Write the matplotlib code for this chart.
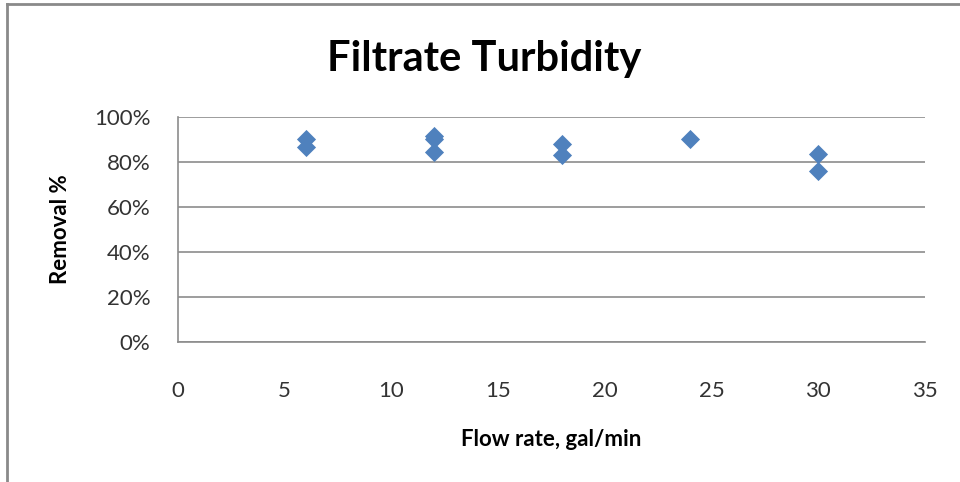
import matplotlib
matplotlib.use("Agg")
import matplotlib.pyplot as plt
from matplotlib.lines import Line2D
from matplotlib.ticker import PercentFormatter

# flow rate (gal/min) vs turbidity removal (%)
flow_rate = [6, 6, 12, 12, 12, 18, 18, 24, 30, 30]
removal = [90.3, 86.8, 91.6, 90.1, 84.4, 88.2, 82.9, 90.1, 83.4, 76.1]

x_ticks = [0, 5, 10, 15, 20, 25, 30, 35]
y_ticks = [0, 20, 40, 60, 80, 100]

plt.rcParams["font.family"] = ["Lato", "DejaVu Sans"]

fig = plt.figure(figsize=(9.6, 4.82), dpi=100)
ax = fig.add_axes([0.1854, 0.2905, 0.7781, 0.4668])

ax.scatter(flow_rate, removal, marker="D", s=95, color="#4F81BD", zorder=3,
           linewidths=0)

ax.set_xlim(0, 35)
ax.set_ylim(0, 100)
ax.set_xticks(x_ticks)
ax.set_yticks(y_ticks)
ax.yaxis.set_major_formatter(PercentFormatter(decimals=0))
ax.grid(axis="y", color="#8c8c8c", linewidth=1.2)
ax.set_axisbelow(True)

for side in ("top", "right"):
    ax.spines[side].set_visible(False)
for side in ("left", "bottom"):
    ax.spines[side].set_color("#8c8c8c")
    ax.spines[side].set_linewidth(1.2)

ax.tick_params(axis="both", length=0, labelsize=16, colors="#333333")
ax.tick_params(axis="x", pad=28)
ax.tick_params(axis="y", pad=20)

ax.set_xlabel("Flow rate, gal/min", fontsize=16, fontweight="bold", labelpad=20)
ax.set_ylabel("Removal %", fontsize=16, fontweight="bold", labelpad=16)
fig.text(0.504, 0.878, "Filtrate Turbidity", ha="center", va="center",
         fontsize=30, fontweight="bold")

# chart area frame, left and top edges
fig.add_artist(Line2D([0.0073, 0.0073], [0.0, 0.9917], color="#8a8a8a",
                      linewidth=2, transform=fig.transFigure))
fig.add_artist(Line2D([0.0073, 1.0], [0.9917, 0.9917], color="#8a8a8a",
                      linewidth=2, transform=fig.transFigure))

fig.savefig("out.png", dpi=100)
